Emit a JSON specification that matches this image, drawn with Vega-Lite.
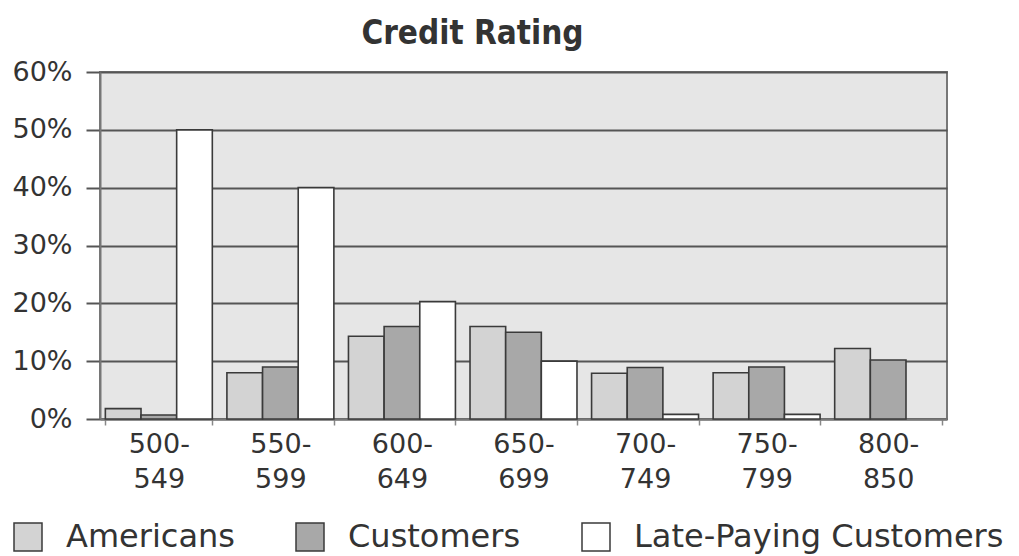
{
  "$schema": "https://vega.github.io/schema/vega-lite/v6.json",
  "width": 847,
  "height": 347,
  "autosize": {"type": "none"},
  "padding": {"left": 100, "top": 72, "right": 72, "bottom": 137},
  "background": "#ffffff",
  "title": {
    "text": "Credit Rating",
    "font": "DejaVu Sans Condensed",
    "fontSize": 33,
    "fontWeight": "bold",
    "color": "#333333",
    "anchor": "middle",
    "frame": "group",
    "dx": -51,
    "offset": 7
  },
  "data": {
    "values": [
      {"range": "500-549", "group": "Americans", "share": 0.018},
      {"range": "500-549", "group": "Customers", "share": 0.007},
      {"range": "500-549", "group": "Late-Paying Customers", "share": 0.50},
      {"range": "550-599", "group": "Americans", "share": 0.080},
      {"range": "550-599", "group": "Customers", "share": 0.090},
      {"range": "550-599", "group": "Late-Paying Customers", "share": 0.40},
      {"range": "600-649", "group": "Americans", "share": 0.143},
      {"range": "600-649", "group": "Customers", "share": 0.160},
      {"range": "600-649", "group": "Late-Paying Customers", "share": 0.203},
      {"range": "650-699", "group": "Americans", "share": 0.160},
      {"range": "650-699", "group": "Customers", "share": 0.150},
      {"range": "650-699", "group": "Late-Paying Customers", "share": 0.100},
      {"range": "700-749", "group": "Americans", "share": 0.079},
      {"range": "700-749", "group": "Customers", "share": 0.089},
      {"range": "700-749", "group": "Late-Paying Customers", "share": 0.008},
      {"range": "750-799", "group": "Americans", "share": 0.080},
      {"range": "750-799", "group": "Customers", "share": 0.090},
      {"range": "750-799", "group": "Late-Paying Customers", "share": 0.008},
      {"range": "800-850", "group": "Americans", "share": 0.122},
      {"range": "800-850", "group": "Customers", "share": 0.102}
    ]
  },
  "mark": {"type": "bar", "stroke": "#3a3a3a", "strokeWidth": 1.6},
  "encoding": {
    "x": {
      "field": "range",
      "type": "nominal",
      "sort": null,
      "scale": {"paddingInner": 0.12, "paddingOuter": 0.044},
      "axis": {
        "title": null,
        "labelAngle": 0,
        "labelFont": "DejaVu Sans",
        "labelFontSize": 27,
        "labelColor": "#333333",
        "labelLineHeight": 35,
        "labelBaseline": "top",
        "labelPadding": 6,
        "labelExpr": "[slice(datum.label, 0, 4), slice(datum.label, 4)]",
        "tickBand": "extent",
        "tickSize": 6,
        "tickColor": "#888888",
        "tickWidth": 1.5,
        "domainColor": "#777777",
        "domainWidth": 2,
        "grid": false
      }
    },
    "xOffset": {
      "field": "group",
      "type": "nominal",
      "scale": {"paddingInner": 0, "paddingOuter": 0}
    },
    "y": {
      "field": "share",
      "type": "quantitative",
      "scale": {"domain": [0, 0.6], "nice": false},
      "axis": {
        "title": null,
        "values": [0, 0.1, 0.2, 0.3, 0.4, 0.5, 0.6],
        "format": ".0%",
        "labelFont": "DejaVu Sans",
        "labelFontSize": 27,
        "labelColor": "#333333",
        "labelPadding": 14,
        "tickSize": 14,
        "tickColor": "#555555",
        "tickWidth": 2,
        "gridColor": "#555555",
        "gridWidth": 2,
        "domainColor": "#777777",
        "domainWidth": 2
      }
    },
    "fill": {
      "field": "group",
      "type": "nominal",
      "scale": {
        "domain": ["Americans", "Customers", "Late-Paying Customers"],
        "range": ["#d3d3d3", "#a8a8a8", "#ffffff"]
      },
      "legend": {
        "title": null,
        "orient": "none",
        "direction": "horizontal",
        "legendX": -88,
        "legendY": 449,
        "symbolType": "square",
        "symbolSize": 784,
        "symbolStrokeColor": "#3a3a3a",
        "symbolStrokeWidth": 1.5,
        "labelFont": "DejaVu Sans",
        "labelFontSize": 32,
        "labelColor": "#333333",
        "labelOffset": 22,
        "labelLimit": 0,
        "columnPadding": 58
      }
    }
  },
  "config": {
    "view": {"fill": "#e6e6e6", "stroke": "#777777", "strokeWidth": 2}
  }
}
